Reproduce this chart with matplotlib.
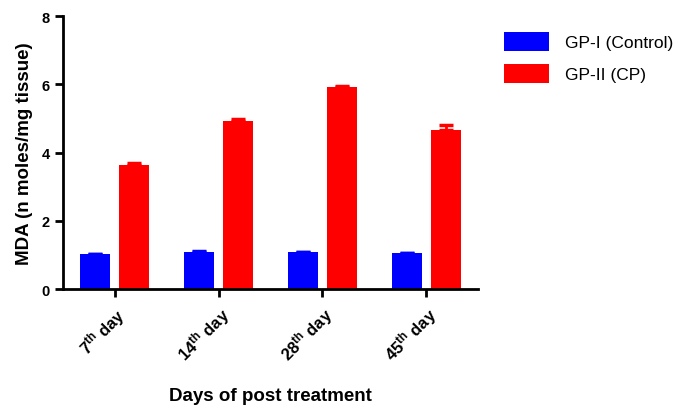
import numpy as np
import matplotlib
matplotlib.use("Agg")
import matplotlib.pyplot as plt

plt.rcParams['font.family'] = ['Liberation Sans', 'DejaVu Sans']
plt.rcParams['mathtext.default'] = 'regular'

days = ["7", "14", "28", "45"]
control = [1.03, 1.09, 1.08, 1.06]
control_err = [0.01, 0.01, 0.01, 0.01]
cp = [3.64, 4.94, 5.91, 4.65]
cp_err = [0.05, 0.04, 0.05, 0.15]
series_names = ["GP-I (Control)", "GP-II (CP)"]

fig = plt.figure(figsize=(6.94, 4.06), dpi=100)
ax = fig.add_axes([0.0908, 0.2857, 0.598, 0.672])

x = np.arange(len(days))
w = 0.29
off = 0.188
ax.bar(x - off, control, w, color="#0000ff", label=series_names[0])
ax.errorbar(x - off, control, yerr=[[0] * 4, control_err], fmt="none",
            ecolor="#0000ff", elinewidth=2, capsize=5, capthick=2.5)
ax.bar(x + off, cp, w, color="#ff0000", label=series_names[1])
ax.errorbar(x + off, cp, yerr=[[0] * 4, cp_err], fmt="none",
            ecolor="#ff0000", elinewidth=2, capsize=5, capthick=2.5)

ax.set_xlim(-0.5, 3.5)
ax.set_ylim(0, 8)
ax.set_yticks([0, 2, 4, 6, 8])
ax.set_xticks(x)
ax.set_xticklabels([d + r"$^{th}$ day" for d in days], rotation=45,
                   ha="right", rotation_mode="anchor", fontweight="bold",
                   fontsize=12)
for lbl in ax.get_yticklabels():
    lbl.set_fontweight("bold")
    lbl.set_fontsize(10.5)

for s in ["top", "right"]:
    ax.spines[s].set_visible(False)
for s in ["left", "bottom"]:
    ax.spines[s].set_linewidth(2)
ax.tick_params(direction="out", length=6, width=2)
ax.tick_params(axis="x", pad=4)

ax.set_ylabel("MDA (n moles/mg tissue)", fontweight="bold", fontsize=13.5,
              labelpad=6)
ax.set_xlabel("Days of post treatment", fontweight="bold", fontsize=13.5,
              labelpad=16)

ax.legend(loc="upper left", bbox_to_anchor=(1.025, 1.0), frameon=False,
          fontsize=12.5, handlelength=2.6, handleheight=1.3, labelspacing=0.75,
          handletextpad=0.9)

plt.savefig("out.png", dpi=100)
